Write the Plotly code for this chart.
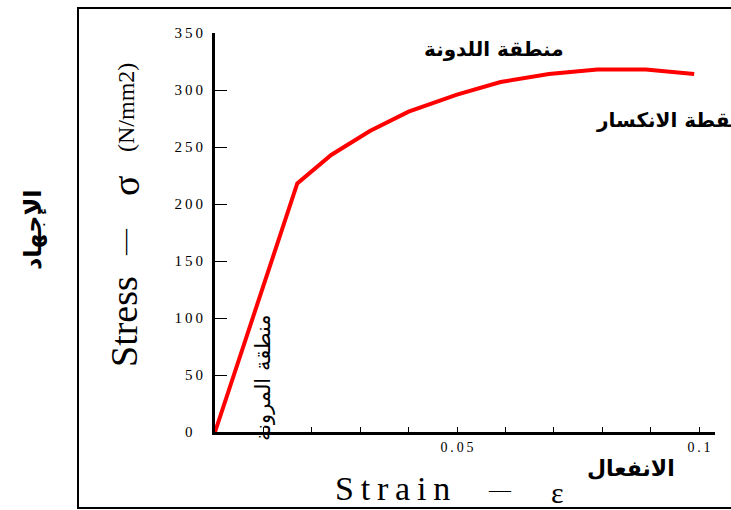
import plotly.graph_objects as go

# stress-strain curve
strain = [0, 0.017, 0.024, 0.032, 0.040, 0.050, 0.059, 0.069, 0.079, 0.089, 0.099]
stress = [0, 218, 243, 264, 281, 296, 307, 314, 318, 318, 314]

y_ticks = [0, 50, 100, 150, 200, 250, 300, 350]
x_ticks = [0.01, 0.02, 0.03, 0.04, 0.05, 0.06, 0.07, 0.08, 0.09, 0.1]
x_labels = {0.05: "0.05", 0.1: "0.1"}

W, H = 731, 510
L, R, T, B = 215, 715, 33, 432
SERIF = "Liberation Serif, Times New Roman, serif"
ARABIC = "DejaVu Sans, Arial, sans-serif"
THIN = "\u2009"


def spaced(text):
    return THIN.join(text)


def px(x, y):
    # pixel position -> paper coords
    return (x - L) / (R - L), (B - y) / (B - T)


def note(fig, x, y, text, size, family, angle=0, xanchor="center", bold=False):
    xp, yp = px(x, y)
    fig.add_annotation(
        x=xp, y=yp, xref="paper", yref="paper",
        text=f"<b>{text}</b>" if bold else text,
        showarrow=False, textangle=angle,
        xanchor=xanchor, yanchor="middle",
        font={"size": size, "family": family, "color": "#000000"},
    )


fig = go.Figure()
fig.add_trace(
    go.Scatter(
        x=strain,
        y=stress,
        mode="lines",
        line={"color": "#ff0000", "width": 4},
        hoverinfo="skip",
    )
)

fig.update_layout(
    width=W,
    height=H,
    margin={"l": L, "r": W - R, "t": T, "b": H - B},
    paper_bgcolor="#ffffff",
    plot_bgcolor="#ffffff",
    showlegend=False,
)
fig.update_xaxes(
    range=[0, 0.1033],
    showgrid=False, zeroline=False,
    showline=True, linecolor="#000000", linewidth=3,
    ticks="inside", ticklen=5, tickwidth=1, tickcolor="#000000",
    tickvals=x_ticks,
    ticktext=[spaced(x_labels.get(v, "")) for v in x_ticks],
    tickfont={"family": SERIF, "size": 14, "color": "#000000"},
)
fig.update_yaxes(
    range=[0, 350],
    showgrid=False, zeroline=False,
    showline=True, linecolor="#000000", linewidth=3,
    ticks="inside", ticklen=12, tickwidth=1, tickcolor="#000000",
    tickvals=y_ticks,
    ticktext=[spaced(str(v)) if v else "0\u2002\u2009" for v in y_ticks],
    tickfont={"family": SERIF, "size": 15, "color": "#000000"},
    ticklabelstandoff=6,
)

# outer frame
x0, y0 = px(78, 508)
x1, y1 = px(745, 8)
fig.add_shape(
    type="rect", xref="paper", yref="paper",
    x0=x0, y0=y0, x1=x1, y1=y1,
    line={"color": "#000000", "width": 2},
)

# axis titles
note(fig, 124, 322, "Stress", 38, SERIF, angle=-90)
note(fig, 124, 242, "\u2014", 26, SERIF, angle=-90)
note(fig, 126, 186, "\u03c3", 38, SERIF, angle=-90)
note(fig, 126, 108, "(N/mm2)", 24, SERIF, angle=-90)
note(fig, 392, 488, spaced("Strain"), 34, SERIF)
note(fig, 500, 490, "\u2014", 22, SERIF)
note(fig, 557, 492, "\u03b5", 30, SERIF)
note(fig, 33, 230, "الإجهاد", 24, ARABIC, angle=-90, bold=True)
note(fig, 631, 468, "الانفعال", 22, ARABIC, bold=True)

# region labels
note(fig, 494, 49, "منطقة اللدونة", 20, ARABIC, bold=True)
note(fig, 740, 120, "نقطة الانكسار", 20, ARABIC, xanchor="right", bold=True)
note(fig, 263, 378, "منطقة المرونة", 21, ARABIC, angle=-90)

fig.write_html(
    "out.html",
    config={"displayModeBar": False},
    post_script="document.body.style.margin = '0';",
)
